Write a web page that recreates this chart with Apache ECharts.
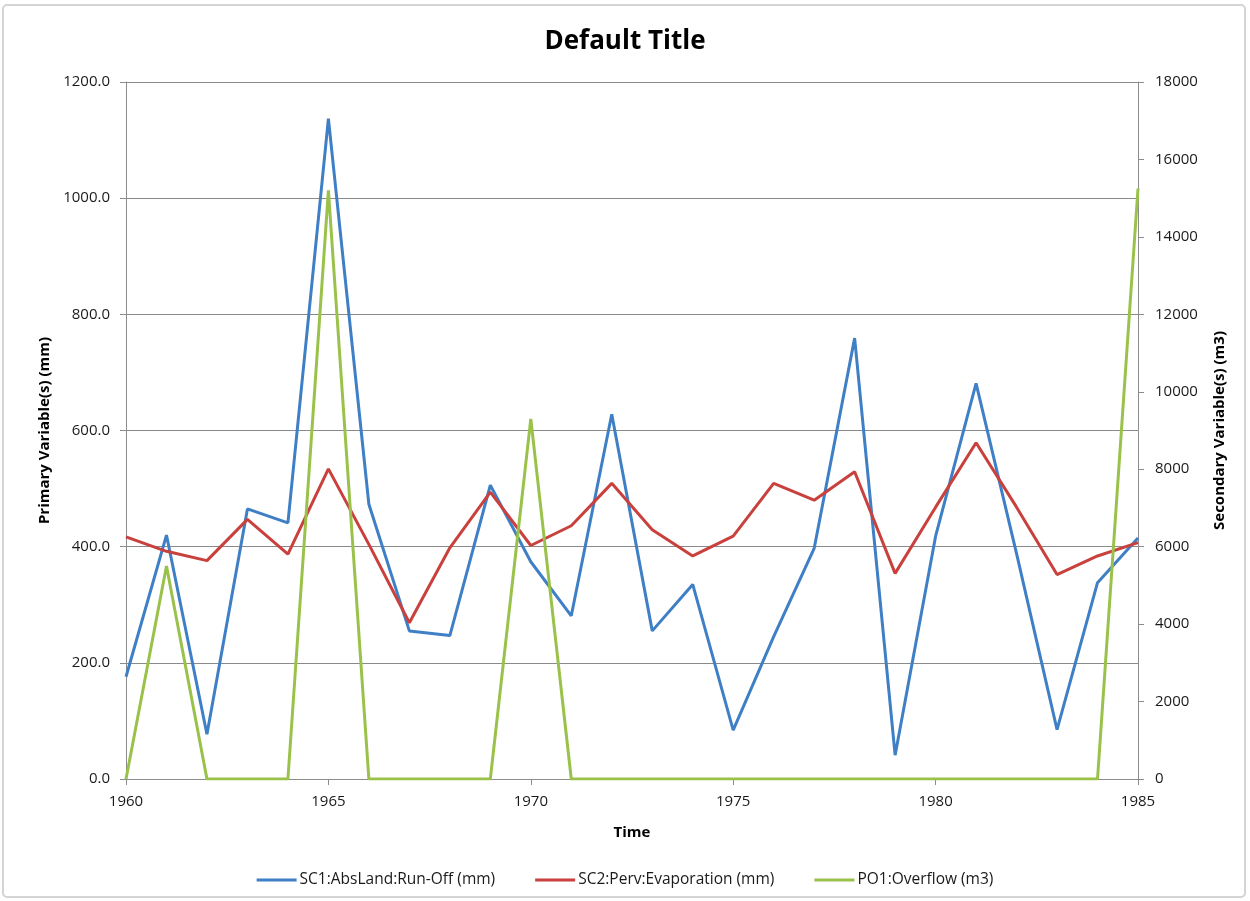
<!DOCTYPE html>
<html>
<head>
<meta charset="utf-8">
<script src="https://cdn.jsdelivr.net/npm/echarts@6/dist/echarts.min.js"></script>
<style>
  html, body { margin: 0; padding: 0; background: #ffffff; }
  #chart { width: 1250px; height: 901px; }
</style>
</head>
<body>
<div id="chart"></div>
<script>
// Simulation years
const years = [1960, 1961, 1962, 1963, 1964, 1965, 1966, 1967, 1968, 1969, 1970, 1971, 1972,
               1973, 1974, 1975, 1976, 1977, 1978, 1979, 1980, 1981, 1982, 1983, 1984, 1985];

// Primary axis series (mm)
const runOff = [176, 420, 77, 465, 441, 1137, 473, 255, 247, 506, 374, 281, 628,
                255, 335, 84, 245, 397, 759, 41, 418, 681, 388, 85, 338, 415];
const evaporation = [417, 392, 376, 447, 387, 534, 404, 269, 398, 494, 402, 436, 509,
                     429, 384, 418, 509, 480, 529, 354, 468, 579, 468, 352, 384, 407];

// Secondary axis series (m3)
const overflow = [0, 5500, 0, 0, 0, 15200, 0, 0, 0, 0, 9300, 0, 0,
                  0, 0, 0, 0, 0, 0, 0, 0, 0, 0, 0, 0, 15250];

const seriesNames = ['SC1:AbsLand:Run-Off (mm)', 'SC2:Perv:Evaporation (mm)', 'PO1:Overflow (m3)'];
const seriesColors = ['#3F7FC6', '#C8413D', '#9AC24A'];

const pairs = vals => years.map((y, i) => [y, vals[i]]);

const FONT = '"Open Sans", sans-serif';
const AXIS_GREY = '#8C8C8C';

const chart = echarts.init(document.getElementById('chart'), null, { renderer: 'canvas' });

chart.setOption({
  backgroundColor: '#ffffff',
  animation: false,
  textStyle: { fontFamily: FONT },
  graphic: [{
    type: 'rect',
    shape: { x: 3, y: 5, width: 1242, height: 892, r: 4 },
    style: { fill: 'none', stroke: '#D4D4D4', lineWidth: 2 },
    silent: true
  }],
  title: {
    text: 'Default Title',
    left: 'center',
    top: 24,
    textStyle: { fontFamily: FONT, fontSize: 26, fontWeight: 'bold', color: '#000000' }
  },
  legend: {
    bottom: 8,
    left: 'center',
    itemGap: 40,
    itemWidth: 40,
    itemHeight: 3,
    icon: 'rect',
    data: seriesNames,
    textStyle: { fontFamily: FONT, fontSize: 15.5, color: '#1A1A1A', padding: [0, 0, 0, -2] }
  },
  grid: { left: 126, right: 112, top: 82, bottom: 122, containLabel: false },
  xAxis: {
    type: 'value',
    min: 1960,
    max: 1985,
    interval: 5,
    name: 'Time',
    nameLocation: 'middle',
    nameGap: 46,
    nameTextStyle: { fontFamily: FONT, fontSize: 15, fontWeight: 'bold', color: '#000' },
    axisLine: { lineStyle: { color: AXIS_GREY, width: 1 } },
    axisTick: { show: true, length: 6, lineStyle: { color: AXIS_GREY } },
    axisLabel: { fontFamily: FONT, fontSize: 15, color: '#1A1A1A', margin: 15,
                 formatter: v => String(v) },
    splitLine: { show: false }
  },
  yAxis: [{
    type: 'value',
    min: 0,
    max: 1200,
    interval: 200,
    position: 'left',
    name: 'Primary Variable(s) (mm)',
    nameLocation: 'middle',
    nameGap: 74,
    nameRotate: 90,
    nameTextStyle: { fontFamily: FONT, fontSize: 15, fontWeight: 'bold', color: '#000' },
    axisLine: { show: true, lineStyle: { color: AXIS_GREY, width: 1 } },
    axisTick: { show: true, length: 6, lineStyle: { color: AXIS_GREY } },
    axisLabel: { fontFamily: FONT, fontSize: 15, color: '#1A1A1A', margin: 16,
                 formatter: v => v.toFixed(1) },
    splitLine: { show: true, lineStyle: { color: '#8A8A8A', width: 1 } }
  }, {
    type: 'value',
    min: 0,
    max: 18000,
    interval: 2000,
    position: 'right',
    name: 'Secondary Variable(s) (m3)',
    nameLocation: 'middle',
    nameGap: 74,
    nameRotate: 90,
    nameTextStyle: { fontFamily: FONT, fontSize: 15, fontWeight: 'bold', color: '#000' },
    axisLine: { show: true, lineStyle: { color: AXIS_GREY, width: 1 } },
    axisTick: { show: true, length: 6, lineStyle: { color: AXIS_GREY } },
    axisLabel: { fontFamily: FONT, fontSize: 15, color: '#1A1A1A', margin: 17,
                 formatter: v => String(v) },
    splitLine: { show: false }
  }],
  series: [{
    name: seriesNames[0],
    type: 'line',
    yAxisIndex: 0,
    data: pairs(runOff),
    showSymbol: false,
    lineStyle: { color: seriesColors[0], width: 3 },
    itemStyle: { color: seriesColors[0] }
  }, {
    name: seriesNames[1],
    type: 'line',
    yAxisIndex: 0,
    data: pairs(evaporation),
    showSymbol: false,
    lineStyle: { color: seriesColors[1], width: 3 },
    itemStyle: { color: seriesColors[1] }
  }, {
    name: seriesNames[2],
    type: 'line',
    yAxisIndex: 1,
    data: pairs(overflow),
    showSymbol: false,
    lineStyle: { color: seriesColors[2], width: 3 },
    itemStyle: { color: seriesColors[2] }
  }]
});
</script>
</body>
</html>
